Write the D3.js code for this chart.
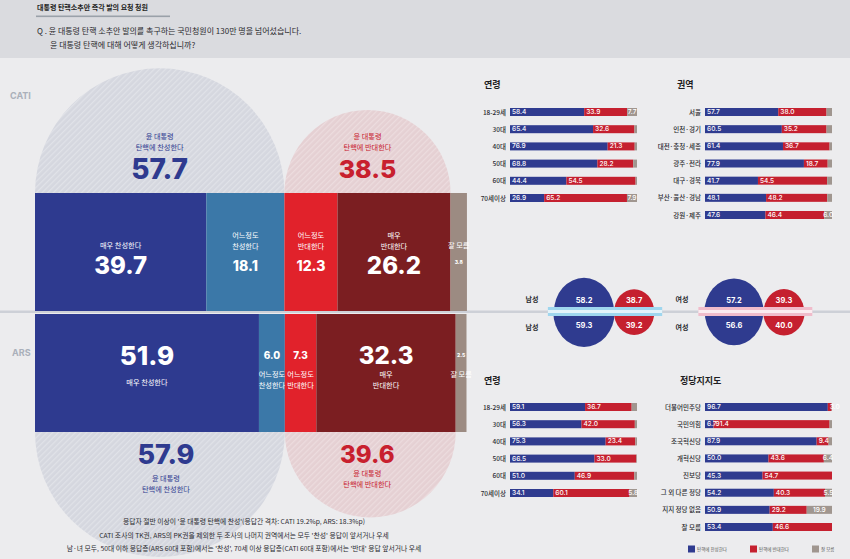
<!DOCTYPE html>
<html><head><meta charset="utf-8">
<script src="https://cdn.jsdelivr.net/npm/d3@7"></script>
<style>
body{margin:0;background:#ececee;}
svg{display:block;font-family:"Noto Sans CJK KR","Noto Sans",sans-serif;}
</style>
</head><body><svg id="c" width="850" height="559"></svg>
<script>
// ---------- DATA ----------
const mainCategories = ["매우 찬성한다","어느정도 찬성한다","어느정도 반대한다","매우 반대한다","잘 모름"];
const mainLabelLines = [["매우 찬성한다"],["어느정도","찬성한다"],["어느정도","반대한다"],["매우","반대한다"],["잘 모름"]];
const catiValues = [39.7,18.1,12.3,26.2,3.8];
const arsValues  = [51.9,6.0,7.3,32.3,2.5];
const catiTotals = [57.7,38.5];
const arsTotals  = [57.9,39.6];
const totalLabels = [["윤 대통령","탄핵에 찬성한다"],["윤 대통령","탄핵에 반대한다"]];

const ageGroups  = ["18-29세","30대","40대","50대","60대","70세이상"];
const catiAgeYes = [58.4,65.4,76.9,68.8,44.4,26.9];
const catiAgeNo  = [33.9,32.6,21.3,28.2,54.5,65.2];
const catiAgeDk  = [7.7,2.0,1.8,3.0,1.1,7.9];

const regions   = ["서울","인천·경기","대전·충청·세종","광주·전라","대구·경북","부산·울산·경남","강원·제주"];
const regionYes = [57.7,60.5,61.4,77.9,41.7,48.1,47.6];
const regionNo  = [38.0,35.2,36.7,18.7,54.5,48.2,46.4];
const regionDk  = [4.3,4.3,1.9,3.4,3.8,3.7,6.0];

const arsAgeYes = [59.1,56.3,75.3,66.5,51.0,34.1];
const arsAgeNo  = [36.7,42.0,23.4,33.0,46.9,60.1];
const arsAgeDk  = [4.2,1.7,1.3,0.5,2.1,5.8];

const parties  = ["더불어민주당","국민의힘","조국혁신당","개혁신당","진보당","그 외 다른 정당","지지 정당 없음","잘 모름"];
const partyYes = [96.7,6.7,87.9,50.0,45.3,54.2,50.9,53.4];
const partyNo  = [3.0,91.4,9.4,43.6,54.7,40.3,29.2,46.6];
const partyDk  = [0.3,1.9,2.7,6.4,0.0,5.5,19.9,0.0];

const genders       = ["남성","여성"];
const genderCatiYes = [58.2,57.2];
const genderCatiNo  = [38.7,39.3];
const genderArsYes  = [59.3,56.6];
const genderArsNo   = [39.2,40.0];

const legendLabels = ["탄핵에 찬성한다","탄핵에 반대한다","잘 모름"];
const titleText = "대통령 탄핵소추안 즉각 발의 요청 청원";
const questionLines = ["Q . 윤 대통령 탄핵 소추안 발의를 촉구하는 국민청원이 130만 명을 넘어섰습니다.","윤 대통령 탄핵에 대해 어떻게 생각하십니까?"];
const footnotes = [
 "응답자 절반 이상이 '윤 대통령 탄핵에 찬성'(응답간 격차: CATI 19.2%p, ARS: 18.3%p)",
 "CATI 조사의 TK권, ARS의 PK권을 제외한 두 조사의 나머지 권역에서는 모두 '찬성' 응답이 앞서거나 우세",
 "남·녀 모두, 50대 이하 응답층(ARS 60대 포함)에서는 '찬성', 70세 이상 응답층(CATI 60대 포함)에서는 '반대' 응답 앞서거나 우세"
];

// ---------- STYLE ----------
const mainColors = ["#2e3a8f","#3b78a8","#e1222b","#7b1e21","#9c8b82"];
const cYes = "#2f3b8f", cNo = "#c5202f", cDk = "#a0968f";
const numFont = "Inter, Roboto, sans-serif";

const svg = d3.select("#c");
const defs = svg.append("defs");
function hatch(id, base, line){
  const p = defs.append("pattern").attr("id",id).attr("patternUnits","userSpaceOnUse")
    .attr("width",4).attr("height",4).attr("patternTransform","rotate(45)");
  p.append("rect").attr("width",4).attr("height",4).attr("fill",base);
  p.append("rect").attr("width",1.3).attr("height",4).attr("fill",line);
}
hatch("hb","#d5d7df","#e0e2e8");
hatch("hr","#e5d0d3","#ecdcde");

// background
svg.append("rect").attr("width",850).attr("height",559).attr("fill","#ececee");
svg.append("rect").attr("width",850).attr("height",58).attr("fill","#dadbdf");

// header
svg.append("text").attr("x",37).attr("y",10).attr("font-size",7).attr("font-weight",700).attr("fill","#1e1e22").text(titleText);
svg.append("rect").attr("x",36).attr("y",15.5).attr("width",134).attr("height",1.6).attr("fill","#9aa1a9");
svg.append("text").attr("x",37).attr("y",34).attr("font-size",8).attr("fill","#2a2a2e").text(questionLines[0]);
svg.append("text").attr("x",50).attr("y",48).attr("font-size",8).attr("fill","#2a2a2e").text(questionLines[1]);

// separator line
svg.append("rect").attr("x",0).attr("y",310.5).attr("width",850).attr("height",2.5).attr("fill","#cdd0d7");

// ---------- MAIN BARS ----------
const xMain = d3.scaleLinear().domain([0,100]).range([35,466.5]);
const catiY = [193,311], arsY = [314,432];

function semis(values, yc, top){
  const cum = [0, ...d3.cumsum(values)];
  const spans = [[cum[0],cum[2]],[cum[2],cum[4]]];
  spans.forEach((s,i)=>{
    const r = (xMain(s[1])-xMain(s[0]))/2;
    const cx = (xMain(s[1])+xMain(s[0]))/2;
    const arc = d3.arc().innerRadius(0).outerRadius(r)
      .startAngle(top ? -Math.PI/2 : Math.PI/2).endAngle(top ? Math.PI/2 : 3*Math.PI/2);
    svg.append("path").attr("d",arc()).attr("transform",`translate(${cx},${yc})`)
      .attr("fill", i===0 ? "url(#hb)" : "url(#hr)");
  });
  return spans.map(s=>(xMain(s[1])+xMain(s[0]))/2);
}
const catiCx = semis(catiValues, catiY[0], true);
const arsCx = semis(arsValues, arsY[1], false);

function mainBar(values, yy){
  const cum = [0, ...d3.cumsum(values)];
  svg.append("g").selectAll("rect").data(values).join("rect")
    .attr("x",(d,i)=>xMain(cum[i])).attr("width",(d,i)=>xMain(cum[i+1])-xMain(cum[i]))
    .attr("y",yy[0]).attr("height",yy[1]-yy[0]).attr("fill",(d,i)=>mainColors[i]);
  return values.map((d,i)=>(xMain(cum[i])+xMain(cum[i+1]))/2);
}
const catiMid = mainBar(catiValues, catiY);
const arsMid = mainBar(arsValues, arsY);

function txt(x,y,s,size,opts={}){
  return svg.append("text").attr("x",x).attr("y",y).attr("font-size",size)
    .attr("text-anchor",opts.anchor||"middle").attr("dominant-baseline","central")
    .attr("font-weight",opts.weight||400).attr("fill",opts.fill||"#fff")
    .attr("font-family",opts.font||null).text(s);
}
// CATI labels
const bigSize = [24,14,14,24,5];
catiValues.forEach((v,i)=>{
  const lines = mainLabelLines[i];
  const baseY = lines.length===1 ? 245 : 235;
  lines.forEach((l,j)=>txt(catiMid[i], baseY + j*10.5, l, 7.2));
  txt(catiMid[i], i===4 ? 262 : 265, v.toFixed(1), bigSize[i], {weight:800, font:numFont});
});
// ARS labels
const arsBig = [26,10,10,24,5];
arsValues.forEach((v,i)=>{
  const lines = mainLabelLines[i];
  txt(arsMid[i], 355, v.toFixed(1), arsBig[i], {weight:800, font:numFont});
  const baseY = (i===0) ? 382 : 374;
  lines.forEach((l,j)=>txt(arsMid[i], baseY + j*10.5, l, 7.2));
});
// total labels
const totColors = ["#2e3a8f","#c8202e"];
catiTotals.forEach((v,i)=>{
  totalLabels[i].forEach((l,j)=>txt(catiCx[i], 136 + j*11, l, 7.2, {fill:totColors[i]}));
  txt(catiCx[i], 169, v.toFixed(1), i===0?28:25, {weight:800, font:numFont, fill:totColors[i]});
});
arsTotals.forEach((v,i)=>{
  const cx = arsCx[i] + (i===0?6:-3);
  txt(cx, 454, v.toFixed(1), i===0?27:24, {weight:800, font:numFont, fill:totColors[i]});
  const by = i===0 ? 478 : 473;
  totalLabels[i].forEach((l,j)=>txt(cx, by + j*10.5, l, 7.2, {fill:totColors[i]}));
});
txt(10,95,"CATI",9,{anchor:"start",weight:700,fill:"#aab0ba",font:numFont});
txt(12,352,"ARS",9,{anchor:"start",weight:700,fill:"#aab0ba",font:numFont});

// footnotes
footnotes.forEach((f,i)=>txt(244, 521 + i*13.5, f, 6.8, {fill:"#2a2a2e"}));

// ---------- SMALL STACKED PANELS ----------
function panel(title, tx, ty, cats, yes, no, dk, x0, x1, yTop, yBot){
  txt(tx, ty, title, 9, {anchor:"start", weight:700, fill:"#1e1e22"});
  const x = d3.scaleLinear().domain([0,100]).range([x0,x1]);
  const y = d3.scalePoint().domain(cats).range([yTop,yBot]);
  const bh = 8;
  const g = svg.append("g");
  const rows = cats.map((c,i)=>({c, yes:yes[i], no:no[i], dk:dk[i]}));
  const row = g.selectAll("g").data(rows).join("g").attr("transform",d=>`translate(0,${y(d.c)})`);
  row.append("rect").attr("x",x(0)).attr("y",-bh/2).attr("height",bh).attr("width",d=>x(d.yes)-x(0)).attr("fill",cYes);
  row.append("rect").attr("x",d=>x(d.yes)).attr("y",-bh/2).attr("height",bh).attr("width",d=>x(d.yes+d.no)-x(d.yes)).attr("fill",cNo);
  row.append("rect").attr("x",d=>x(d.yes+d.no)).attr("y",-bh/2).attr("height",bh).attr("width",d=>Math.max(0,x(d.yes+d.no+d.dk)-x(d.yes+d.no))).attr("fill",cDk);
  const lab = (sel)=>sel.attr("font-size",6.6).attr("fill","#fff").attr("dominant-baseline","central").attr("font-family",numFont).attr("font-weight",500);
  row.append("text").call(lab).attr("x",x(0)+2).text(d=>d.yes.toFixed(1));
  row.append("text").call(lab).attr("x",d=>x(d.yes)+2).text(d=>d.no.toFixed(1));
  row.filter(d=>d.dk>=5).append("text").call(lab).attr("text-anchor","middle")
    .attr("x",d=>x(d.yes+d.no+d.dk/2)).text(d=>d.dk.toFixed(1));
  const ax = g.append("g").attr("transform",`translate(${x0-1},0)`)
    .call(d3.axisLeft(y).tickSize(0).tickPadding(3));
  ax.select(".domain").remove();
  ax.selectAll("text").attr("font-size",6.5).attr("fill","#2a2a2e").attr("font-weight",500)
    .attr("font-family","'Noto Sans CJK KR',sans-serif");
}
panel("연령", 484, 84, ageGroups, catiAgeYes, catiAgeNo, catiAgeDk, 510, 637, 112, 198);
panel("권역", 677, 84, regions, regionYes, regionNo, regionDk, 705, 832, 112, 215);
panel("연령", 484, 380, ageGroups, arsAgeYes, arsAgeNo, arsAgeDk, 510, 637, 407, 493);
panel("정당지지도", 680, 380, parties, partyYes, partyNo, partyDk, 705, 832, 407, 527);

// ---------- GENDER CIRCLES ----------
const rG = d3.scaleLinear().domain([0,60]).range([0,34.5]);
const gx = d3.scalePoint().domain(genders).range([584,734]);
const sx = 0.9, sy = 1.02, gy = 312;
const bandFill = [["#9fd6ee","#e3f3fa"],["#f0bccb","#fbecf0"]];
genders.forEach((gname,i)=>{
  const cx = gx(gname);
  const rcx = cx + sx*rG(genderCatiYes[i]) + sx*rG(genderCatiNo[i]);
  const half = (r, top)=> d3.arc().innerRadius(0).outerRadius(r)
      .startAngle(top?-Math.PI/2:Math.PI/2).endAngle(top?Math.PI/2:3*Math.PI/2)();
  [[cx,genderCatiYes[i],genderArsYes[i],cYes],[rcx,genderCatiNo[i],genderArsNo[i],cNo]].forEach(([c,vt,vb,col])=>{
    svg.append("path").attr("d",half(rG(vt),true)).attr("transform",`translate(${c},${gy}) scale(${sx},${sy})`).attr("fill",col);
    svg.append("path").attr("d",half(rG(vb),false)).attr("transform",`translate(${c},${gy}) scale(${sx},${sy})`).attr("fill",col);
  });
  const bx0 = cx - sx*rG(genderCatiYes[i]) - 6;
  const bx1 = rcx + sx*rG(genderCatiNo[i]) + 8;
  svg.append("rect").attr("x",bx0).attr("y",307).attr("width",bx1-bx0).attr("height",9).attr("fill",bandFill[i][0]);
  svg.append("rect").attr("x",bx0).attr("y",310).attr("width",bx1-bx0).attr("height",3).attr("fill",bandFill[i][1]);
  const vf = {weight:700, font:numFont};
  txt(cx, 300, genderCatiYes[i].toFixed(1), 7.5, vf);
  txt(cx, 325, genderArsYes[i].toFixed(1), 7.5, vf);
  txt(rcx, 300, genderCatiNo[i].toFixed(1), 7.5, vf);
  txt(rcx, 325, genderArsNo[i].toFixed(1), 7.5, vf);
  txt(cx-52, 299, gname, 7, {weight:700, fill:"#2a2a2e"});
  txt(cx-52, 327, gname, 7, {weight:700, fill:"#2a2a2e"});
});

// ---------- LEGEND ----------
const legCols = [cYes,cNo,cDk];
const legX = d3.scalePoint().domain(legendLabels).range([688,812]);
legendLabels.forEach((l,i)=>{
  svg.append("rect").attr("x",legX(l)).attr("y",545.5).attr("width",7).attr("height",7).attr("fill",legCols[i]);
  txt(legX(l)+9, 549, l, 4.5, {anchor:"start", fill:"#555"});
});
</script>
</body></html>
